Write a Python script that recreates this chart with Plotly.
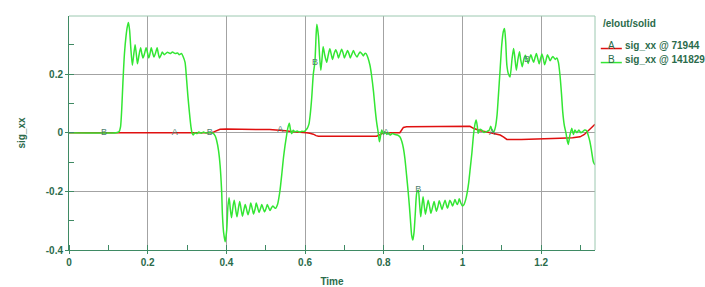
import numpy as np
import plotly.graph_objects as go

# ---- data: (time, sig_xx) samples ----
curve_b = [
    (0.0, 0.0), (0.12, 0.0), (0.127, 0.003), (0.131, 0.02), (0.134, 0.08), (0.137, 0.17), (0.141, 0.27),
    (0.145, 0.33), (0.148, 0.36), (0.151, 0.376),
    (0.154, 0.35), (0.157, 0.29), (0.161, 0.23), (0.164, 0.26), (0.168, 0.30), (0.171, 0.27), (0.174, 0.235),
    (0.178, 0.265), (0.182, 0.29), (0.185, 0.27), (0.188, 0.255), (0.192, 0.27), (0.196, 0.29), (0.2, 0.27),
    (0.203, 0.255), (0.206, 0.27), (0.209, 0.29), (0.213, 0.27), (0.216, 0.258), (0.22, 0.272), (0.224, 0.29),
    (0.227, 0.27), (0.23, 0.255), (0.234, 0.265), (0.237, 0.275), (0.242, 0.266), (0.25, 0.274), (0.257, 0.27),
    (0.263, 0.275), (0.27, 0.27), (0.276, 0.272), (0.28, 0.266), (0.286, 0.27), (0.29, 0.26), (0.295, 0.24),
    (0.299, 0.18), (0.302, 0.128), (0.306, 0.07), (0.31, 0.02), (0.313, -0.002), (0.316, -0.008), (0.32, 0.0),
    (0.325, -0.003), (0.33, 0.002), (0.336, -0.002), (0.342, 0.002), (0.348, -0.001), (0.355, 0.001),
    (0.362, 0.0), (0.367, -0.002), (0.372, -0.012), (0.375, -0.025), (0.38, -0.06), (0.384, -0.11),
    (0.388, -0.2), (0.39, -0.28), (0.393, -0.34), (0.397, -0.372), (0.401, -0.33), (0.404, -0.25), (0.407, -0.222),
    (0.41, -0.26), (0.413, -0.29), (0.417, -0.25), (0.42, -0.23), (0.424, -0.265), (0.427, -0.287), (0.431, -0.255),
    (0.434, -0.235), (0.438, -0.265), (0.441, -0.285), (0.445, -0.26), (0.448, -0.245), (0.452, -0.265),
    (0.455, -0.28), (0.459, -0.26), (0.462, -0.24), (0.466, -0.26), (0.469, -0.277), (0.473, -0.26),
    (0.476, -0.24), (0.48, -0.258), (0.483, -0.272), (0.487, -0.258), (0.49, -0.245), (0.494, -0.26),
    (0.497, -0.27), (0.501, -0.258), (0.504, -0.245), (0.508, -0.257), (0.511, -0.265), (0.515, -0.255),
    (0.518, -0.25), (0.522, -0.255), (0.525, -0.258), (0.53, -0.245), (0.536, -0.2), (0.541, -0.14),
    (0.545, -0.087), (0.549, -0.045), (0.553, -0.01), (0.556, 0.015), (0.56, 0.032), (0.563, 0.01),
    (0.566, -0.003), (0.57, 0.008), (0.574, 0.003), (0.58, 0.006), (0.586, 0.002), (0.592, 0.005),
    (0.598, 0.004), (0.602, 0.009), (0.606, 0.016), (0.61, 0.03), (0.613, 0.06), (0.617, 0.12), (0.621, 0.2),
    (0.625, 0.24), (0.628, 0.33), (0.63, 0.37), (0.634, 0.33), (0.637, 0.26), (0.64, 0.213),
    (0.643, 0.25), (0.646, 0.293), (0.65, 0.265), (0.655, 0.24), (0.659, 0.265), (0.663, 0.286), (0.667, 0.265),
    (0.67, 0.25), (0.674, 0.27), (0.678, 0.283), (0.682, 0.27), (0.685, 0.255), (0.689, 0.27), (0.693, 0.285),
    (0.697, 0.27), (0.70, 0.255), (0.704, 0.268), (0.708, 0.28), (0.712, 0.268), (0.715, 0.255), (0.719, 0.268),
    (0.723, 0.28), (0.727, 0.268), (0.732, 0.258), (0.736, 0.268), (0.74, 0.275), (0.744, 0.27), (0.748, 0.262),
    (0.752, 0.27), (0.755, 0.27), (0.76, 0.255), (0.765, 0.23), (0.769, 0.196), (0.774, 0.14), (0.778, 0.083),
    (0.782, 0.035), (0.786, 0.0), (0.789, -0.031), (0.792, -0.01), (0.795, 0.009), (0.799, -0.004),
    (0.803, 0.003), (0.808, -0.006), (0.812, 0.001), (0.816, -0.008), (0.822, -0.003), (0.829, -0.006),
    (0.835, -0.008), (0.841, -0.014), (0.846, -0.03), (0.85, -0.053), (0.854, -0.09), (0.858, -0.144),
    (0.862, -0.2), (0.865, -0.247), (0.868, -0.3), (0.871, -0.35), (0.874, -0.366), (0.877, -0.34),
    (0.88, -0.28), (0.884, -0.205), (0.888, -0.196),
    (0.891, -0.24), (0.894, -0.287), (0.897, -0.25), (0.9, -0.218), (0.903, -0.25), (0.906, -0.278),
    (0.91, -0.25), (0.913, -0.23), (0.917, -0.255), (0.92, -0.275), (0.924, -0.255), (0.928, -0.235),
    (0.931, -0.252), (0.934, -0.268), (0.938, -0.25), (0.941, -0.232), (0.945, -0.248), (0.948, -0.262),
    (0.952, -0.245), (0.956, -0.23), (0.959, -0.245), (0.962, -0.258), (0.965, -0.245), (0.968, -0.23),
    (0.972, -0.24), (0.975, -0.25), (0.978, -0.24), (0.981, -0.228), (0.984, -0.238), (0.987, -0.245),
    (0.99, -0.235), (0.992, -0.225), (0.996, -0.24), (1.0, -0.25), (1.004, -0.245), (1.008, -0.23),
    (1.012, -0.205), (1.016, -0.17), (1.02, -0.12), (1.024, -0.07), (1.028, -0.01), (1.032, 0.03),
    (1.035, 0.043), (1.038, 0.02), (1.04, -0.002), (1.045, 0.012), (1.049, 0.009), (1.055, 0.001),
    (1.062, 0.004), (1.068, 0.008), (1.072, 0.022), (1.076, 0.006), (1.08, 0.004), (1.084, 0.02),
    (1.088, 0.06), (1.091, 0.117), (1.096, 0.219), (1.1, 0.3), (1.104, 0.345), (1.107, 0.355), (1.11, 0.31),
    (1.113, 0.23), (1.117, 0.2), (1.121, 0.19),
    (1.126, 0.25), (1.13, 0.287), (1.133, 0.26), (1.137, 0.213), (1.141, 0.25), (1.145, 0.276), (1.148, 0.25),
    (1.152, 0.225), (1.156, 0.25), (1.16, 0.264), (1.164, 0.25), (1.167, 0.236), (1.171, 0.255), (1.174, 0.266),
    (1.178, 0.25), (1.181, 0.24), (1.185, 0.258), (1.188, 0.27), (1.192, 0.25), (1.195, 0.235), (1.199, 0.255),
    (1.202, 0.268), (1.206, 0.25), (1.209, 0.232), (1.213, 0.25), (1.216, 0.266), (1.22, 0.255), (1.223, 0.245),
    (1.227, 0.255), (1.23, 0.26), (1.236, 0.25), (1.24, 0.255), (1.244, 0.24), (1.248, 0.196), (1.252, 0.13),
    (1.255, 0.071), (1.259, 0.025), (1.263, 0.0), (1.267, -0.03), (1.269, -0.04), (1.273, -0.01), (1.278, 0.015),
    (1.282, -0.006), (1.286, 0.009), (1.291, 0.0), (1.296, 0.009), (1.301, 0.0), (1.306, 0.004), (1.311, 0.009),
    (1.316, 0.006), (1.32, -0.01), (1.324, -0.03), (1.328, -0.06), (1.333, -0.1), (1.337, -0.11),
]
t_b = [p[0] for p in curve_b]
sig_b = [p[1] for p in curve_b]

t_a = [0.0, 0.362, 0.368, 0.375, 0.384, 0.40, 0.42, 0.45, 0.48, 0.51, 0.536, 0.55, 0.57, 0.59,
       0.604, 0.612, 0.621, 0.628, 0.634, 0.66, 0.70, 0.74, 0.782, 0.79, 0.80, 0.82, 0.841, 0.846,
       0.85, 0.858, 0.90, 0.95, 1.0, 1.019, 1.028, 1.045, 1.06, 1.079, 1.096, 1.105, 1.113, 1.15,
       1.20, 1.248, 1.28, 1.299, 1.31, 1.32, 1.333, 1.337]
sig_a = [0.0, 0.0, 0.003, 0.008, 0.012, 0.013, 0.012, 0.013, 0.011, 0.011, 0.009, 0.007, 0.003, 0.002,
         0.0, -0.002, -0.005, -0.01, -0.012, -0.012, -0.012, -0.012, -0.012, -0.007, 0.0, 0.0, 0.0, 0.01,
         0.018, 0.02, 0.02, 0.021, 0.022, 0.022, 0.015, 0.007, 0.003, -0.002, -0.008, -0.015, -0.023, -0.023,
         -0.022, -0.019, -0.017, -0.014, -0.006, 0.007, 0.026, 0.029]

mark_t_a = [0.269, 0.537, 0.806, 1.075]
mark_t_b = [0.089, 0.358, 0.625, 0.888, 1.164]

x_ticks = [0, 0.2, 0.4, 0.6, 0.8, 1, 1.2]
x_tick_labels = ["0", "0.2", "0.4", "0.6", "0.8", "1", "1.2"]
y_ticks = [-0.4, -0.2, 0, 0.2]
y_tick_labels = ["-0.4", "-0.2", "0", "0.2"]

legend_title = "/elout/solid"
name_a = "sig_xx @ 71944"
name_b = "sig_xx @ 141829"

# ---- styling ----
RED = "#e01010"
GREEN = "#33e633"
TXT = "#2b6b4b"
AXIS = "#3f8a64"
BORDER = "#9cc8b0"
GRID = "#a3a3a3"
MARK = "#4f7f70"
FONT = "Liberation Sans"

fig = go.Figure()
fig.add_trace(go.Scatter(x=t_a, y=sig_a, mode="lines", line=dict(color=RED, width=1.5),
                         hoverinfo="skip", showlegend=False))
fig.add_trace(go.Scatter(x=t_b, y=sig_b, mode="lines",
                         line=dict(color=GREEN, width=1.5, shape="spline", smoothing=0.6),
                         hoverinfo="skip", showlegend=False))

ya = np.interp(mark_t_a, t_a, sig_a)
yb = np.interp(mark_t_b, t_b, sig_b)
fig.add_trace(go.Scatter(x=mark_t_a, y=ya, mode="text", text=["A"] * len(mark_t_a),
                         textposition="middle center",
                         textfont=dict(family=FONT, size=9, color=MARK), showlegend=False))
fig.add_trace(go.Scatter(x=mark_t_b, y=yb, mode="text", text=["B"] * len(mark_t_b),
                         textposition="middle center",
                         textfont=dict(family=FONT, size=9, color=MARK), showlegend=False))

fig.update_layout(
    width=705, height=287,
    margin=dict(l=69, r=110, t=16, b=37),
    paper_bgcolor="white", plot_bgcolor="white",
    font=dict(family=FONT, size=10, color=TXT),
    showlegend=False,
    xaxis=dict(range=[0, 1.337], tickvals=x_ticks, ticktext=x_tick_labels, automargin=False,
               showgrid=True, gridcolor=GRID, gridwidth=1, zeroline=False,
               showline=True, linecolor=AXIS, linewidth=1,
               ticks="outside", ticklen=3, tickcolor=AXIS,
               tickfont=dict(family=FONT, size=10, color=TXT, weight="bold"),
               minor=dict(dtick=0.1, tick0=0, ticks="inside", ticklen=5, tickcolor=AXIS, showgrid=False),
               title=dict(text="Time", font=dict(family=FONT, size=10, color=TXT, weight="bold"), standoff=10)),
    yaxis=dict(range=[-0.4, 0.398], tickvals=y_ticks, ticktext=y_tick_labels, automargin=False,
               showgrid=True, gridcolor=GRID, gridwidth=1, zeroline=False,
               showline=True, linecolor=AXIS, linewidth=1,
               ticks="outside", ticklen=3, tickcolor=AXIS,
               tickfont=dict(family=FONT, size=10, color=TXT, weight="bold"),
               minor=dict(dtick=0.1, tick0=0, ticks="inside", ticklen=5, tickcolor=AXIS, showgrid=False),
               title=dict(text="sig_xx", font=dict(family=FONT, size=10, color=TXT, weight="bold"), standoff=18)),
)

# lighter top / right frame
fig.add_shape(type="line", xref="paper", yref="paper", x0=0, x1=1, y0=1, y1=1,
              line=dict(color=BORDER, width=1))
fig.add_shape(type="line", xref="paper", yref="paper", x0=1, x1=1, y0=0, y1=1,
              line=dict(color=BORDER, width=1))

# legend block
fig.add_annotation(xref="paper", yref="paper", x=1.011, y=0.97, text=legend_title,
                   showarrow=False, xanchor="left", yanchor="middle",
                   font=dict(family=FONT, size=10, color=TXT, weight="bold"))
for lab, name, col, yy in [("A", name_a, RED, 0.876), ("B", name_b, GREEN, 0.816)]:
    fig.add_shape(type="line", xref="paper", yref="paper", x0=1.011, x1=1.051,
                  y0=yy - 0.015, y1=yy - 0.015, line=dict(color=col, width=1.5))
    fig.add_annotation(xref="paper", yref="paper", x=1.032, y=yy, text=lab,
                       showarrow=False, xanchor="center", yanchor="middle",
                       font=dict(family=FONT, size=10, color=TXT))
    fig.add_annotation(xref="paper", yref="paper", x=1.053, y=yy, text=name,
                       showarrow=False, xanchor="left", yanchor="middle",
                       font=dict(family=FONT, size=10, color=TXT, weight="bold"))

fig.write_html("out.html")
